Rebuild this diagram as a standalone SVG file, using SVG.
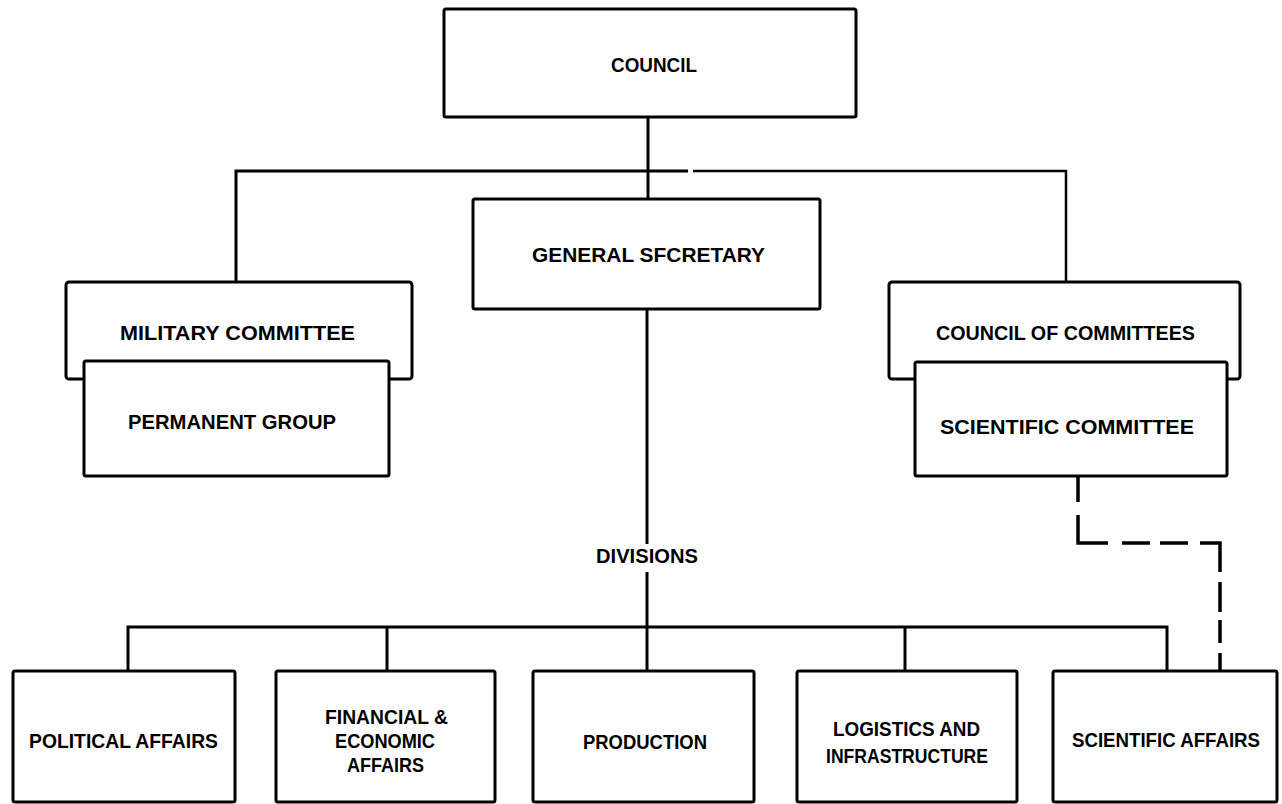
<svg xmlns="http://www.w3.org/2000/svg" width="1282" height="804" viewBox="0 0 1282 804">
<style>
.box{fill:#fff;stroke:#000;stroke-width:3;stroke-linejoin:round}
.ln{fill:none;stroke:#000;stroke-width:3}
.dash{fill:none;stroke:#000;stroke-width:3.5;stroke-dasharray:26 13 58 14 28 10 28 12 49 10 30 8 23 10 18}
text{font-family:"Liberation Sans",Arial,Helvetica,sans-serif;font-weight:bold;font-size:21px;fill:#000}
</style>
<rect width="1282" height="804" fill="#fff"/>
<g id="connectors">
<path class="ln" d="M648 117 V309"/>
<path class="ln" d="M236 282 V171 H688"/>
<path class="ln" style="stroke-width:2.5" d="M693 171 H1066 V282"/>
<path class="ln" d="M647 309 V544"/>
<path class="ln" d="M647 572 V671"/>
<path class="ln" d="M128 671 V627 H1167 V671"/>
<path class="ln" d="M387 627 V671"/>
<path class="ln" d="M905 627 V671"/>
<path class="dash" d="M1078 476 V543 H1220 V671"/>
</g>
<g id="council">
<rect class="box" x="444" y="9" width="412" height="108" rx="2"/>
<text x="611" y="72" textLength="86" lengthAdjust="spacingAndGlyphs" style="font-size:20px">COUNCIL</text>
</g>
<g id="general-secretary">
<rect class="box" x="473" y="199" width="347" height="110" rx="2"/>
<text x="532" y="262" textLength="233" lengthAdjust="spacingAndGlyphs">GENERAL SFCRETARY</text>
</g>
<g id="military-committee">
<rect class="box" x="66" y="282" width="346" height="97" rx="3"/>
<text x="120" y="340" textLength="235" lengthAdjust="spacingAndGlyphs">MILITARY COMMITTEE</text>
</g>
<g id="permanent-group">
<rect class="box" x="84" y="361" width="305" height="115" rx="2"/>
<text x="128" y="429" textLength="208" lengthAdjust="spacingAndGlyphs">PERMANENT GROUP</text>
</g>
<g id="council-of-committees">
<rect class="box" x="889" y="282" width="351" height="97" rx="3"/>
<text x="936" y="340" textLength="259" lengthAdjust="spacingAndGlyphs">COUNCIL OF  COMMITTEES</text>
</g>
<g id="scientific-committee">
<rect class="box" x="915" y="362" width="312" height="114" rx="2"/>
<text x="940" y="434" textLength="254" lengthAdjust="spacingAndGlyphs">SCIENTIFIC COMMITTEE</text>
</g>
<g id="divisions">
<text x="596" y="563" textLength="102" lengthAdjust="spacingAndGlyphs">DIVISIONS</text>
</g>
<g id="political-affairs">
<rect class="box" x="13" y="671" width="222" height="131" rx="2"/>
<text x="29" y="748" textLength="189" lengthAdjust="spacingAndGlyphs">POLITICAL AFFAIRS</text>
</g>
<g id="financial-economic-affairs">
<rect class="box" x="276" y="671" width="219" height="131" rx="2"/>
<text x="325" y="724" textLength="123" lengthAdjust="spacingAndGlyphs">FINANCIAL &amp;</text>
<text x="335" y="748" textLength="100" lengthAdjust="spacingAndGlyphs">ECONOMIC</text>
<text x="347" y="772" textLength="77" lengthAdjust="spacingAndGlyphs">AFFAIRS</text>
</g>
<g id="production">
<rect class="box" x="533" y="671" width="221" height="131" rx="2"/>
<text x="583" y="749" textLength="124" lengthAdjust="spacingAndGlyphs">PRODUCTION</text>
</g>
<g id="logistics-infrastructure">
<rect class="box" x="797" y="671" width="220" height="131" rx="2"/>
<text x="833" y="736" textLength="147" lengthAdjust="spacingAndGlyphs">LOGISTICS AND</text>
<text x="826" y="763" textLength="162" lengthAdjust="spacingAndGlyphs">INFRASTRUCTURE</text>
</g>
<g id="scientific-affairs">
<rect class="box" x="1053" y="671" width="224" height="131" rx="2"/>
<text x="1072" y="747" textLength="188" lengthAdjust="spacingAndGlyphs">SCIENTIFIC AFFAIRS</text>
</g>
</svg>
